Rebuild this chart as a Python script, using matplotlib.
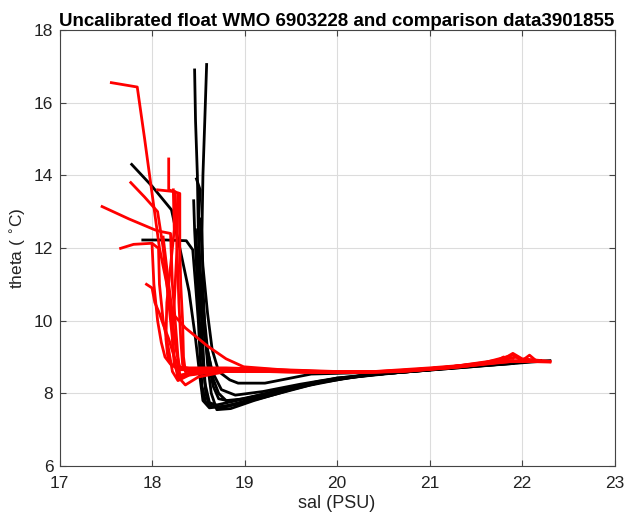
import matplotlib
matplotlib.use("Agg")
import matplotlib.pyplot as plt

plt.rcParams['font.family'] = ['Liberation Sans', 'DejaVu Sans']

# ---- data: float profiles (black) ----
float_sal = [
    [18.46, 18.47, 18.49, 18.50, 18.52, 18.54, 18.56, 18.58, 18.62, 18.75, 18.95, 19.3, 19.7, 20.1, 20.6, 21.1, 21.6, 22.0, 22.3],
    [18.59, 18.57, 18.55, 18.54, 18.55, 18.57, 18.60, 18.64, 18.70, 18.85, 19.1, 19.5, 19.9, 20.3, 20.8, 21.3, 21.8, 22.2],
    [17.78, 18.0, 18.21, 18.3, 18.4, 18.47, 18.52, 18.55, 18.62, 18.8, 19.1, 19.5, 20.0, 20.5, 21.0, 21.5, 21.9],
    [17.9, 18.15, 18.37, 18.44, 18.47, 18.5, 18.52, 18.54, 18.58, 18.7, 19.0, 19.4, 19.8, 20.3, 20.8, 21.4, 21.9],
    [18.45, 18.46, 18.48, 18.5, 18.53, 18.57, 18.62, 18.72, 18.9, 19.2, 19.6, 20.0, 20.5, 21.0],
    [18.48, 18.52, 18.50, 18.52, 18.56, 18.60, 18.66, 18.72, 18.8, 19.0, 19.3, 19.7, 20.2, 20.7, 21.2, 21.7, 22.1],
    [18.52, 18.55, 18.6, 18.65, 18.72, 18.84, 18.93, 19.22, 19.72, 20.3, 20.9, 21.5, 22.0],
    [18.5, 18.52, 18.55, 18.6, 18.66, 18.72, 18.85, 19.1, 19.5, 19.9, 20.4, 21.0],
    [18.47, 18.5, 18.53, 18.58, 18.65, 18.75, 18.9, 19.2, 19.6, 20.0, 20.6, 21.2, 21.8, 22.2],
]
float_theta = [
    [16.9, 15.5, 14.0, 12.5, 11.0, 9.8, 8.8, 8.0, 7.65, 7.6, 7.72, 7.95, 8.22, 8.42, 8.57, 8.67, 8.78, 8.86, 8.9],
    [17.05, 15.5, 14.0, 12.5, 11.0, 9.8, 8.8, 8.0, 7.55, 7.58, 7.8, 8.1, 8.35, 8.5, 8.6, 8.72, 8.85, 8.9],
    [14.3, 13.7, 13.05, 12.0, 10.8, 9.5, 8.4, 7.8, 7.6, 7.65, 7.85, 8.15, 8.42, 8.55, 8.65, 8.75, 8.82],
    [12.22, 12.22, 12.2, 11.95, 11.0, 10.0, 9.0, 8.2, 7.75, 7.68, 7.85, 8.1, 8.33, 8.5, 8.6, 8.72, 8.83],
    [13.3, 12.5, 11.5, 10.5, 9.3, 8.3, 7.75, 7.62, 7.7, 7.9, 8.18, 8.4, 8.55, 8.65],
    [13.9, 13.6, 12.6, 11.4, 10.2, 9.2, 8.4, 8.0, 7.8, 7.85, 8.0, 8.25, 8.45, 8.58, 8.7, 8.82, 8.88],
    [12.8, 11.5, 10.2, 9.2, 8.6, 8.37, 8.28, 8.28, 8.53, 8.57, 8.64, 8.76, 8.85],
    [12.0, 11.0, 10.0, 9.0, 8.2, 7.85, 7.78, 7.92, 8.15, 8.35, 8.52, 8.64],
    [12.5, 11.2, 10.2, 9.4, 8.6, 8.1, 7.95, 8.05, 8.25, 8.42, 8.56, 8.68, 8.8, 8.88],
]

# ---- data: comparison profiles (red) ----
ref_sal = [
    [17.56, 17.84, 17.92, 18.0, 18.08, 18.16, 18.22, 18.26, 18.3, 18.4, 18.7, 19.2, 19.7, 20.2, 20.7, 21.2, 21.6, 21.9, 22.0, 22.08, 22.15, 22.3],
    [17.46, 17.75, 18.03, 18.1, 18.2, 18.22, 18.25, 18.28, 18.3, 18.4, 18.8, 19.4, 20.0, 20.6, 21.2, 21.7, 21.8, 21.9, 22.0, 22.3],
    [17.77, 17.92, 18.06, 18.12, 18.16, 18.2, 18.24, 18.28, 18.35, 18.6, 19.2, 19.8, 20.4, 21.0, 21.5],
    [17.66, 17.8, 18.0, 18.07, 18.08, 18.12, 18.18, 18.22, 18.28, 18.4, 18.7, 19.3, 19.9, 20.5, 21.1, 21.6, 22.0],
    [18.18, 18.18, 18.3, 18.3, 18.31, 18.33, 18.34, 18.36, 18.5, 19.0, 19.6, 20.2, 20.8, 21.4, 21.9, 22.2],
    [18.06, 18.25, 18.27, 18.29, 18.31, 18.33, 18.38, 18.6, 19.0, 19.5, 20.1, 20.7, 21.3, 21.8, 22.3],
    [17.94, 18.0, 18.03, 18.08, 18.12, 18.18, 18.24, 18.3, 18.45, 18.9, 19.5, 20.1, 20.7, 21.3, 21.7, 21.8, 21.85, 22.2],
    [18.12, 18.18, 18.22, 18.36, 18.6, 18.8, 18.99, 19.5, 20.1, 20.7, 21.3, 21.9],
    [18.28, 18.27, 18.24, 18.22, 18.24, 18.3, 18.36, 18.5, 18.8, 19.4, 20.0, 20.6, 21.2, 21.7, 22.1],
    [18.0, 18.02, 18.06, 18.1, 18.14, 18.2, 18.3, 18.6, 19.2, 19.8, 20.4, 21.0, 21.5, 21.95, 22.0, 22.3],
    [18.23, 18.24, 18.2, 18.16, 18.15, 18.17, 18.22, 18.4, 18.8, 19.4, 20.0, 20.6, 21.2],
]
ref_theta = [
    [16.55, 16.43, 15.0, 13.5, 12.0, 11.0, 10.0, 9.2, 8.7, 8.6, 8.62, 8.6, 8.58, 8.58, 8.62, 8.72, 8.85, 9.05, 8.9, 9.05, 8.9, 8.87],
    [13.14, 12.8, 12.5, 12.45, 12.4, 11.0, 10.0, 9.0, 8.5, 8.55, 8.65, 8.62, 8.58, 8.6, 8.72, 8.9, 8.95, 9.1, 8.95, 8.88],
    [13.8, 13.4, 13.0, 12.0, 11.0, 10.0, 9.0, 8.4, 8.5, 8.62, 8.6, 8.58, 8.6, 8.7, 8.8],
    [11.99, 12.1, 12.13, 11.99, 11.0, 10.0, 9.2, 8.6, 8.35, 8.5, 8.6, 8.6, 8.57, 8.6, 8.7, 8.82, 8.9],
    [14.45, 13.6, 13.5, 12.0, 11.0, 10.0, 9.0, 8.6, 8.65, 8.66, 8.6, 8.58, 8.63, 8.75, 8.88, 8.88],
    [13.6, 13.55, 12.0, 10.5, 9.5, 8.8, 8.5, 8.6, 8.65, 8.6, 8.57, 8.6, 8.72, 8.87, 8.88],
    [11.0, 10.9, 10.5, 10.2, 9.9, 9.5, 9.0, 8.7, 8.62, 8.66, 8.62, 8.58, 8.6, 8.72, 8.85, 9.0, 8.9, 8.88],
    [12.3, 11.0, 10.2, 9.8, 9.3, 8.95, 8.73, 8.63, 8.58, 8.62, 8.74, 8.9],
    [13.45, 12.0, 10.5, 9.5, 8.8, 8.4, 8.23, 8.45, 8.6, 8.62, 8.58, 8.6, 8.72, 8.86, 8.9],
    [12.1, 11.0, 10.0, 9.4, 9.0, 8.8, 8.65, 8.65, 8.63, 8.6, 8.58, 8.68, 8.8, 9.0, 8.88, 8.86],
    [13.6, 12.5, 11.5, 10.5, 9.5, 9.0, 8.75, 8.7, 8.7, 8.65, 8.6, 8.6, 8.7],
]

x_ticks = [17, 18, 19, 20, 21, 22, 23]
y_ticks = [6, 8, 10, 12, 14, 16, 18]

fig = plt.figure(figsize=(6.24, 5.25), dpi=100)
ax = fig.add_axes([0.0954, 0.1124, 0.8896, 0.8305])

for s, t in zip(float_sal, float_theta):
    ax.plot(s, t, color='black', lw=2.0, solid_joinstyle='round')
for s, t in zip(ref_sal, ref_theta):
    ax.plot(s, t, color='red', lw=2.0, solid_joinstyle='round')

ax.set_xlim(17, 23)
ax.set_ylim(6, 18)
ax.set_xticks(x_ticks)
ax.set_yticks(y_ticks)
ax.grid(True, color='#dcdcdc', lw=0.8)
ax.set_axisbelow(True)
ax.tick_params(direction='in', top=True, right=True, labelsize=12.5, length=4,
               color='#444444', labelcolor='#222222')
ax.tick_params(axis='x', pad=7)
ax.tick_params(axis='y', pad=4.5)
for sp in ax.spines.values():
    sp.set_color('#444444')
    sp.set_linewidth(0.8)

ax.set_xlabel('sal (PSU)', fontsize=13, color='#222222', labelpad=3)
ax.set_ylabel('theta ( $^{\\circ}$C)', fontsize=12.5, color='#222222', labelpad=4)
ax.set_title('Uncalibrated float WMO 6903228 and comparison data3901855',
             fontsize=13.5, fontweight='bold', pad=3)

fig.savefig('out.png', dpi=100)
